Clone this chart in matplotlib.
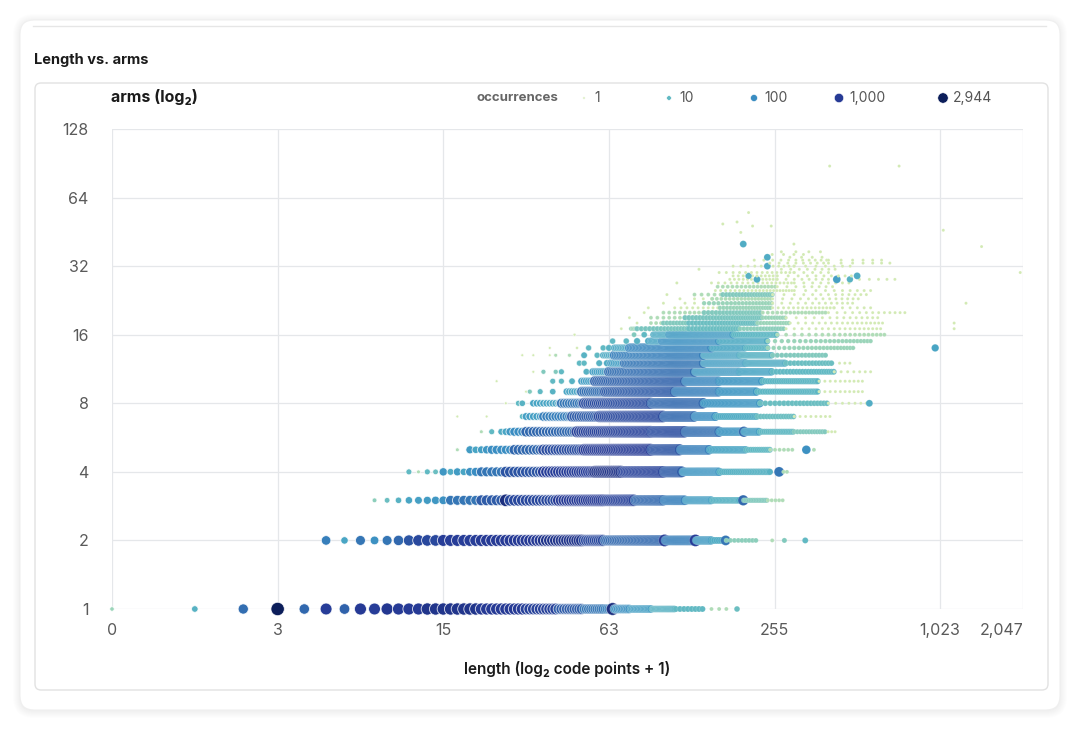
import numpy as np
import matplotlib.pyplot as plt
from matplotlib.colors import LinearSegmentedColormap, LogNorm
from matplotlib.patches import FancyBboxPatch
from matplotlib.ticker import NullLocator

plt.rcParams['font.family'] = ['Inter', 'DejaVu Sans']

# axis ticks
x_ticks = [0, 3, 15, 63, 255, 1023, 2047]
y_ticks = [1, 2, 4, 8, 16, 32, 64, 128]
legend_counts = [1, 10, 100, 1000, 2944]

# rows of the scatter: arms value -> runs of (length from, length to, occurrences[, step])
arms_rows = [1, 2, 3, 4, 5, 6, 7, 8, 9, 10, 11, 12, 13, 14, 15, 16, 17, 18, 19, 20,
             21, 22, 23, 24, 25, 26, 27, 28, 29, 30, 31, 32, 33, 34, 35, 36, 37, 40]
row_segments = [
    # 1
    [(0, 0, 3), (1, 1, 15), (2, 2, 250), (3, 3, 2944), (4, 4, 300), (5, 5, 900), (6, 6, 350),
     (7, 7, 1000), (8, 8, 900), (9, 9, 1100), (10, 12, 1000), (13, 20, 1200), (21, 30, 1000),
     (31, 40, 800), (41, 50, 400), (51, 60, 200), (61, 64, 150), (65, 65, 1500), (66, 75, 80),
     (76, 90, 40), (91, 110, 15), (111, 140, 10, 4), (150, 175, 2, 10), (186, 186, 8)],
    # 2
    [(5, 5, 150), (6, 6, 30), (7, 7, 200), (8, 8, 80), (9, 9, 200), (10, 10, 300), (11, 11, 500),
     (12, 14, 700), (15, 20, 900), (21, 35, 1000), (36, 50, 1200), (51, 60, 700), (61, 100, 300),
     (101, 101, 1000), (102, 130, 150), (131, 131, 900), (132, 150, 50), (151, 168, 20, 3),
     (169, 169, 200), (170, 220, 4, 6), (250, 250, 2), (277, 277, 5), (330, 330, 10)],
    # 3
    [(8, 8, 4), (9, 9, 8), (10, 10, 15), (11, 11, 30), (12, 12, 40), (13, 13, 50), (14, 14, 60),
     (15, 15, 80), (16, 20, 200), (21, 25, 400), (26, 26, 1500), (27, 40, 700), (41, 60, 1000),
     (61, 78, 800), (79, 100, 300), (101, 120, 150), (121, 150, 40), (151, 190, 15, 2),
     (196, 196, 300), (197, 240, 5, 3), (241, 275, 2, 8)],
    # 4
    [(11, 11, 10), (12, 12, 2), (13, 13, 10), (14, 14, 8), (15, 15, 60), (16, 16, 20), (17, 17, 50),
     (18, 18, 30), (19, 19, 80), (20, 20, 100), (21, 25, 200), (26, 35, 500), (36, 55, 900),
     (56, 70, 1300), (71, 100, 800), (101, 117, 400), (118, 160, 60), (161, 245, 15, 3),
     (265, 265, 200), (275, 290, 2, 8)],
    # 5
    [(17, 17, 2), (19, 19, 50), (20, 20, 30), (21, 21, 40), (22, 22, 60), (23, 27, 100),
     (28, 35, 300), (36, 50, 600), (51, 90, 1000), (91, 115, 500), (116, 147, 150),
     (148, 200, 30, 2), (201, 245, 10, 4), (246, 300, 2, 10), (333, 333, 80), (355, 355, 2)],
    # 6
    [(21, 21, 2), (23, 23, 10), (25, 25, 20), (26, 26, 30), (27, 27, 60), (28, 30, 100),
     (31, 47, 300), (48, 90, 800), (91, 120, 600), (121, 160, 250), (161, 196, 60, 2),
     (197, 197, 300), (198, 225, 40, 2), (226, 300, 10, 4), (301, 390, 5, 8), (400, 425, 1, 12)],
    # 7
    [(17, 17, 1), (22, 22, 1), (30, 30, 10), (31, 35, 40), (36, 45, 150), (46, 57, 400),
     (58, 100, 700), (101, 130, 300), (131, 155, 100), (156, 220, 20, 3), (221, 300, 8, 6),
     (301, 410, 1, 15)],
    # 8
    [(26, 26, 1), (29, 29, 10), (30, 30, 15), (33, 41, 30), (42, 50, 200), (51, 90, 600),
     (91, 140, 300), (141, 225, 60, 2), (226, 400, 8, 10), (401, 560, 1, 25), (565, 565, 20)],
    # 9
    [(31, 31, 1), (32, 32, 5), (35, 35, 10), (39, 39, 15), (44, 49, 30), (50, 60, 250),
     (61, 110, 400), (111, 160, 150), (161, 220, 60, 2), (221, 370, 12, 5), (371, 545, 1, 18)],
    # 10
    [(24, 24, 1), (39, 39, 10), (42, 42, 10), (46, 46, 15), (50, 55, 40), (56, 120, 350),
     (121, 160, 120), (161, 230, 60, 2), (231, 370, 12, 5), (371, 545, 1, 18)],
    # 11
    [(33, 33, 1), (36, 36, 5), (40, 40, 5), (42, 42, 10), (52, 52, 15), (55, 62, 40),
     (63, 130, 250), (131, 190, 50), (191, 250, 30, 2), (251, 420, 10, 8), (421, 590, 1, 25)],
    # 12
    [(49, 49, 10), (51, 51, 10), (58, 58, 15), (62, 62, 20), (64, 71, 40), (72, 140, 200),
     (141, 200, 40), (201, 280, 20, 2), (281, 420, 8, 10), (440, 480, 1, 20)],
    # 13
    [(30, 30, 1), (33, 33, 1), (38, 38, 1), (40, 40, 2), (45, 45, 2), (51, 51, 15), (57, 57, 10),
     (60, 65, 20), (66, 140, 150), (141, 190, 30), (191, 250, 15, 2), (251, 400, 5, 10)],
    # 14
    [(38, 38, 1), (48, 48, 1), (53, 53, 10), (60, 60, 10), (63, 63, 15), (66, 74, 25),
     (75, 150, 120), (151, 200, 25, 2), (201, 240, 12, 3), (241, 500, 3, 12), (981, 981, 30)],
    # 15
    [(65, 65, 10), (73, 73, 10), (80, 80, 15), (88, 88, 20), (90, 98, 30), (99, 160, 80),
     (161, 240, 20, 2), (241, 580, 3, 15)],
    # 16
    [(47, 47, 1), (78, 78, 5), (85, 85, 10), (92, 104, 20), (105, 180, 50), (181, 260, 12, 3),
     (261, 650, 2, 20)],
    # 17
    [(70, 70, 1), (76, 79, 3), (80, 123, 6, 3), (124, 190, 8, 4), (191, 280, 4, 6),
     (281, 640, 1, 20), (1150, 1150, 1)],
    # 18
    [(80, 80, 1), (90, 98, 2, 4), (100, 123, 5, 3), (124, 220, 8, 4), (221, 290, 3, 6),
     (291, 640, 1, 20), (1150, 1150, 1)],
    # 19
    [(75, 75, 1), (90, 119, 2, 5), (120, 230, 6, 4), (231, 280, 3, 6), (281, 620, 1, 25)],
    # 20
    [(85, 85, 1), (100, 140, 2, 5), (141, 230, 5, 5), (231, 400, 2, 10), (401, 790, 1, 30)],
    # 21
    [(88, 88, 1), (110, 160, 1, 6), (161, 250, 3, 5), (251, 420, 1, 12), (421, 590, 1, 30)],
    # 22
    [(100, 100, 1), (120, 140, 1, 10), (141, 250, 3, 6), (251, 500, 1, 20), (1270, 1270, 1)],
    # 23
    [(115, 115, 1), (130, 150, 1, 10), (151, 250, 2, 6), (251, 520, 1, 22)],
    # 24
    [(103, 103, 1), (130, 164, 2, 8), (165, 250, 5, 5), (251, 570, 1, 25)],
    # 25
    [(155, 300, 1, 7), (301, 590, 1, 30)],
    # 26
    [(158, 260, 2, 7), (261, 430, 1, 22)],
    # 27
    [(112, 112, 1), (150, 300, 1, 9), (301, 490, 1, 25)],
    # 28
    [(175, 260, 1, 7), (220, 220, 20), (261, 420, 1, 20), (430, 430, 40), (480, 480, 15),
     (520, 700, 1, 45)],
    # 29
    [(180, 260, 1, 8), (205, 205, 15), (261, 530, 1, 25), (510, 510, 20)],
    # 30
    [(160, 300, 1, 10), (301, 425, 1, 25), (2000, 2000, 1)],
    # 31
    [(135, 135, 1), (270, 425, 1, 22)],
    # 32
    [(180, 300, 1, 12), (240, 240, 20), (301, 500, 1, 30)],
    # 33
    [(245, 400, 1, 20), (401, 680, 1, 45)],
    # 34
    [(215, 400, 1, 18), (401, 630, 1, 45)],
    # 35
    [(240, 240, 20), (290, 380, 1, 30)],
    # 36
    [(250, 330, 1, 25)],
    # 37
    [(270, 380, 1, 35)],
    # 40
    [(196, 196, 20), (300, 300, 1)],
]

# scattered single points above the main cloud
extra_length = [1050, 1447, 165, 186, 192, 205, 212, 248, 405, 725]
extra_arms = [46, 39, 49, 50, 45, 55, 48, 48, 88, 88]
extra_count = [1, 1, 1, 1, 1, 1, 1, 1, 1, 1]

lengths, arms, counts = [], [], []
for a, segs in zip(arms_rows, row_segments):
    for seg in segs:
        lo, hi, c = seg[:3]
        step = seg[3] if len(seg) > 3 else 1
        for L in range(lo, hi + 1, step):
            lengths.append(L)
            arms.append(a)
            counts.append(c)
lengths += extra_length
arms += extra_arms
counts += extra_count
lengths = np.array(lengths)
arms = np.array(arms)
counts = np.array(counts)

cmax = 2944
anchors = [(0.0, '#d2eab3'), (0.5, '#97d3b9'), (1.0, '#60b9c3'), (1.5, '#48a4c4'),
           (2.0, '#3a8dc2'), (2.5, '#3166ad'), (3.0, '#263a96'), (np.log10(cmax), '#0c1e5a')]
cmap = LinearSegmentedColormap.from_list(
    'occ', [(p / np.log10(cmax), col) for p, col in anchors])
norm = LogNorm(1, cmax)


def marker_size(c):
    d = 3 + 3 * np.log10(np.asarray(c, dtype=float))
    return (d * 0.72) ** 2


# white outlines fade where neighbouring lengths are packed closer than a pixel or two
px_gap = 82.5 / np.log(2) / (lengths + 1)
edge_alpha = np.clip((px_gap - 0.5) / 3.0, 0.18, 0.85)
edge_rgba = np.column_stack([np.ones((len(lengths), 3)), edge_alpha])

fig = plt.figure(figsize=(10.8, 7.3), dpi=100)
fig.patch.set_facecolor('white')

# background card, panel and text
ov = fig.add_axes([0, 0, 1, 1], zorder=-1)
ov.set_xlim(0, 1080)
ov.set_ylim(730, 0)
ov.axis('off')
for i in range(8):
    ov.add_patch(FancyBboxPatch((20 - i, 21 - i), 1040 + 2 * i, 690 + 2 * i,
                                boxstyle='round,pad=0,rounding_size=%d' % (14 + i),
                                fc=(0, 0, 0, 0.006), ec='none'))
ov.add_patch(FancyBboxPatch((20, 20), 1040, 690, boxstyle='round,pad=0,rounding_size=14',
                            fc='white', ec='#efefef', lw=0.8))
ov.plot([33, 1046], [26, 26], color='#e6e6e6', lw=1)
ov.add_patch(FancyBboxPatch((35, 83), 1013, 607, boxstyle='round,pad=0,rounding_size=6',
                            fc='white', ec='#e2e2e2', lw=1))
ov.text(34, 60, 'Length vs. arms', fontsize=10.5, fontweight='bold', va='center', color='#1b1b1b')
ov.text(111, 97, 'arms (log₂)', fontsize=11.5, fontweight='bold', va='center', color='#1b1b1b')
ov.text(567, 669, 'length (log₂ code points + 1)', fontsize=11, fontweight='semibold',
        ha='center', va='center', color='#1b1b1b')

# legend
ov.text(558, 98, 'occurrences', fontsize=9.5, fontweight='bold', ha='right', va='center', color='#666666')
leg_x = [584, 669, 754, 839, 943]
ov.scatter(leg_x, [98] * len(leg_x), s=marker_size(legend_counts) * 0.6, c=legend_counts,
           cmap=cmap, norm=norm, edgecolors='white', linewidths=0.4)
for lx, c in zip(leg_x, legend_counts):
    ov.text(lx + 10, 98, f'{c:,}', fontsize=10, ha='left', va='center', color='#555555')

# main plot
ax = fig.add_axes([112 / 1080, 1 - 609 / 730, (1023 - 112) / 1080, (609 - 129) / 730])
ax.set_facecolor('none')
ax.set_xscale('function', functions=(lambda v: np.log2(np.clip(v, 0, None) + 1),
                                     lambda u: 2.0 ** u - 1))
ax.set_yscale('log', base=2)
ax.set_xlim(0, 2047)
ax.set_ylim(1, 128)

ax.scatter(lengths, arms, s=marker_size(counts), c=counts, cmap=cmap, norm=norm,
           edgecolors=edge_rgba, linewidths=0.6, clip_on=False, zorder=3)

ax.set_xticks(x_ticks)
ax.set_xticklabels([f'{t:,}' for t in x_ticks])
ax.set_yticks(y_ticks)
ax.set_yticklabels([str(t) for t in y_ticks])
ax.xaxis.set_minor_locator(NullLocator())
ax.yaxis.set_minor_locator(NullLocator())
ax.tick_params(axis='x', length=0, pad=10, labelsize=11.5, labelcolor='#5a5a5a')
ax.tick_params(axis='y', length=0, pad=17, labelsize=11.5, labelcolor='#5a5a5a')
ax.get_xticklabels()[-1].set_horizontalalignment('right')
ax.grid(True, color='#e5e7ea', lw=0.9)
ax.set_axisbelow(True)
for sp in ax.spines.values():
    sp.set_visible(False)

fig.savefig('out.png', dpi=100)
